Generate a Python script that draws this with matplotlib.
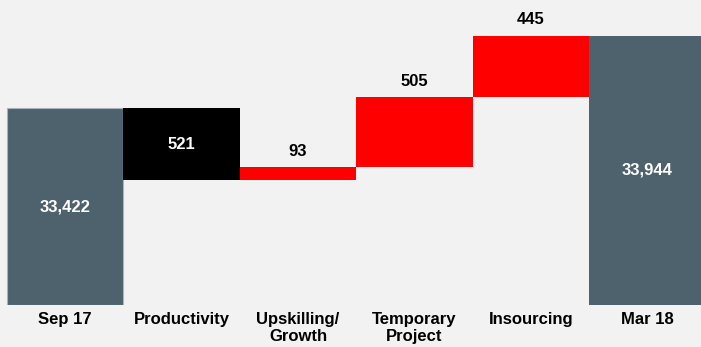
import matplotlib.pyplot as plt

categories = ["Sep 17", "Productivity", "Upskilling/\nGrowth", "Temporary\nProject", "Insourcing", "Mar 18"]
start_total = 33422
changes = [-521, 93, 505, 445]
end_total = 33944
axis_floor = 32000

plt.rcParams['font.family'] = ['Liberation Sans', 'DejaVu Sans']

fig = plt.figure(figsize=(7.01, 3.47), dpi=100, facecolor='#f2f2f2')
ax = fig.add_axes([0, 42 / 347, 1, 305 / 347])
ax.set_facecolor('#f2f2f2')

total_color = '#4d626c'
fs = 12

# opening total
ax.bar(0, start_total - axis_floor, bottom=axis_floor, width=1.0, color=total_color, edgecolor='#a8b4ba', linewidth=0.8)
ax.text(0, (start_total + axis_floor) / 2, f"{start_total:,}", ha='center', va='center',
        color='white', fontsize=fs, fontweight='bold')

# movements
level = start_total
for i, ch in enumerate(changes, start=1):
    lo = min(level, level + ch)
    hi = max(level, level + ch)
    if ch < 0:
        ax.bar(i, hi - lo, bottom=lo, width=1.0, color='black', linewidth=0)
        ax.text(i, (lo + hi) / 2, f"{abs(ch):,}", ha='center', va='center',
                color='white', fontsize=fs, fontweight='bold')
    else:
        ax.bar(i, hi - lo, bottom=lo, width=1.0, color='#ff0000', linewidth=0)
        ax.text(i, hi + 115, f"{ch:,}", ha='center', va='center',
                color='black', fontsize=fs, fontweight='bold')
    level += ch

# closing total
ax.bar(5, end_total - axis_floor, bottom=axis_floor, width=1.0, color=total_color, linewidth=0)
ax.text(5, (end_total + axis_floor) / 2, f"{end_total:,}", ha='center', va='center',
        color='white', fontsize=fs, fontweight='bold')

ax.set_xlim(-0.56, 5.46)
ax.set_ylim(axis_floor, 34202)
ax.set_xticks(range(len(categories)))
ax.set_xticklabels(categories, fontsize=fs, fontweight='bold', linespacing=1.2)
ax.tick_params(axis='x', length=0, pad=5)
ax.set_yticks([])
for s in ax.spines.values():
    s.set_visible(False)

fig.savefig('out.png', dpi=100, facecolor=fig.get_facecolor())
